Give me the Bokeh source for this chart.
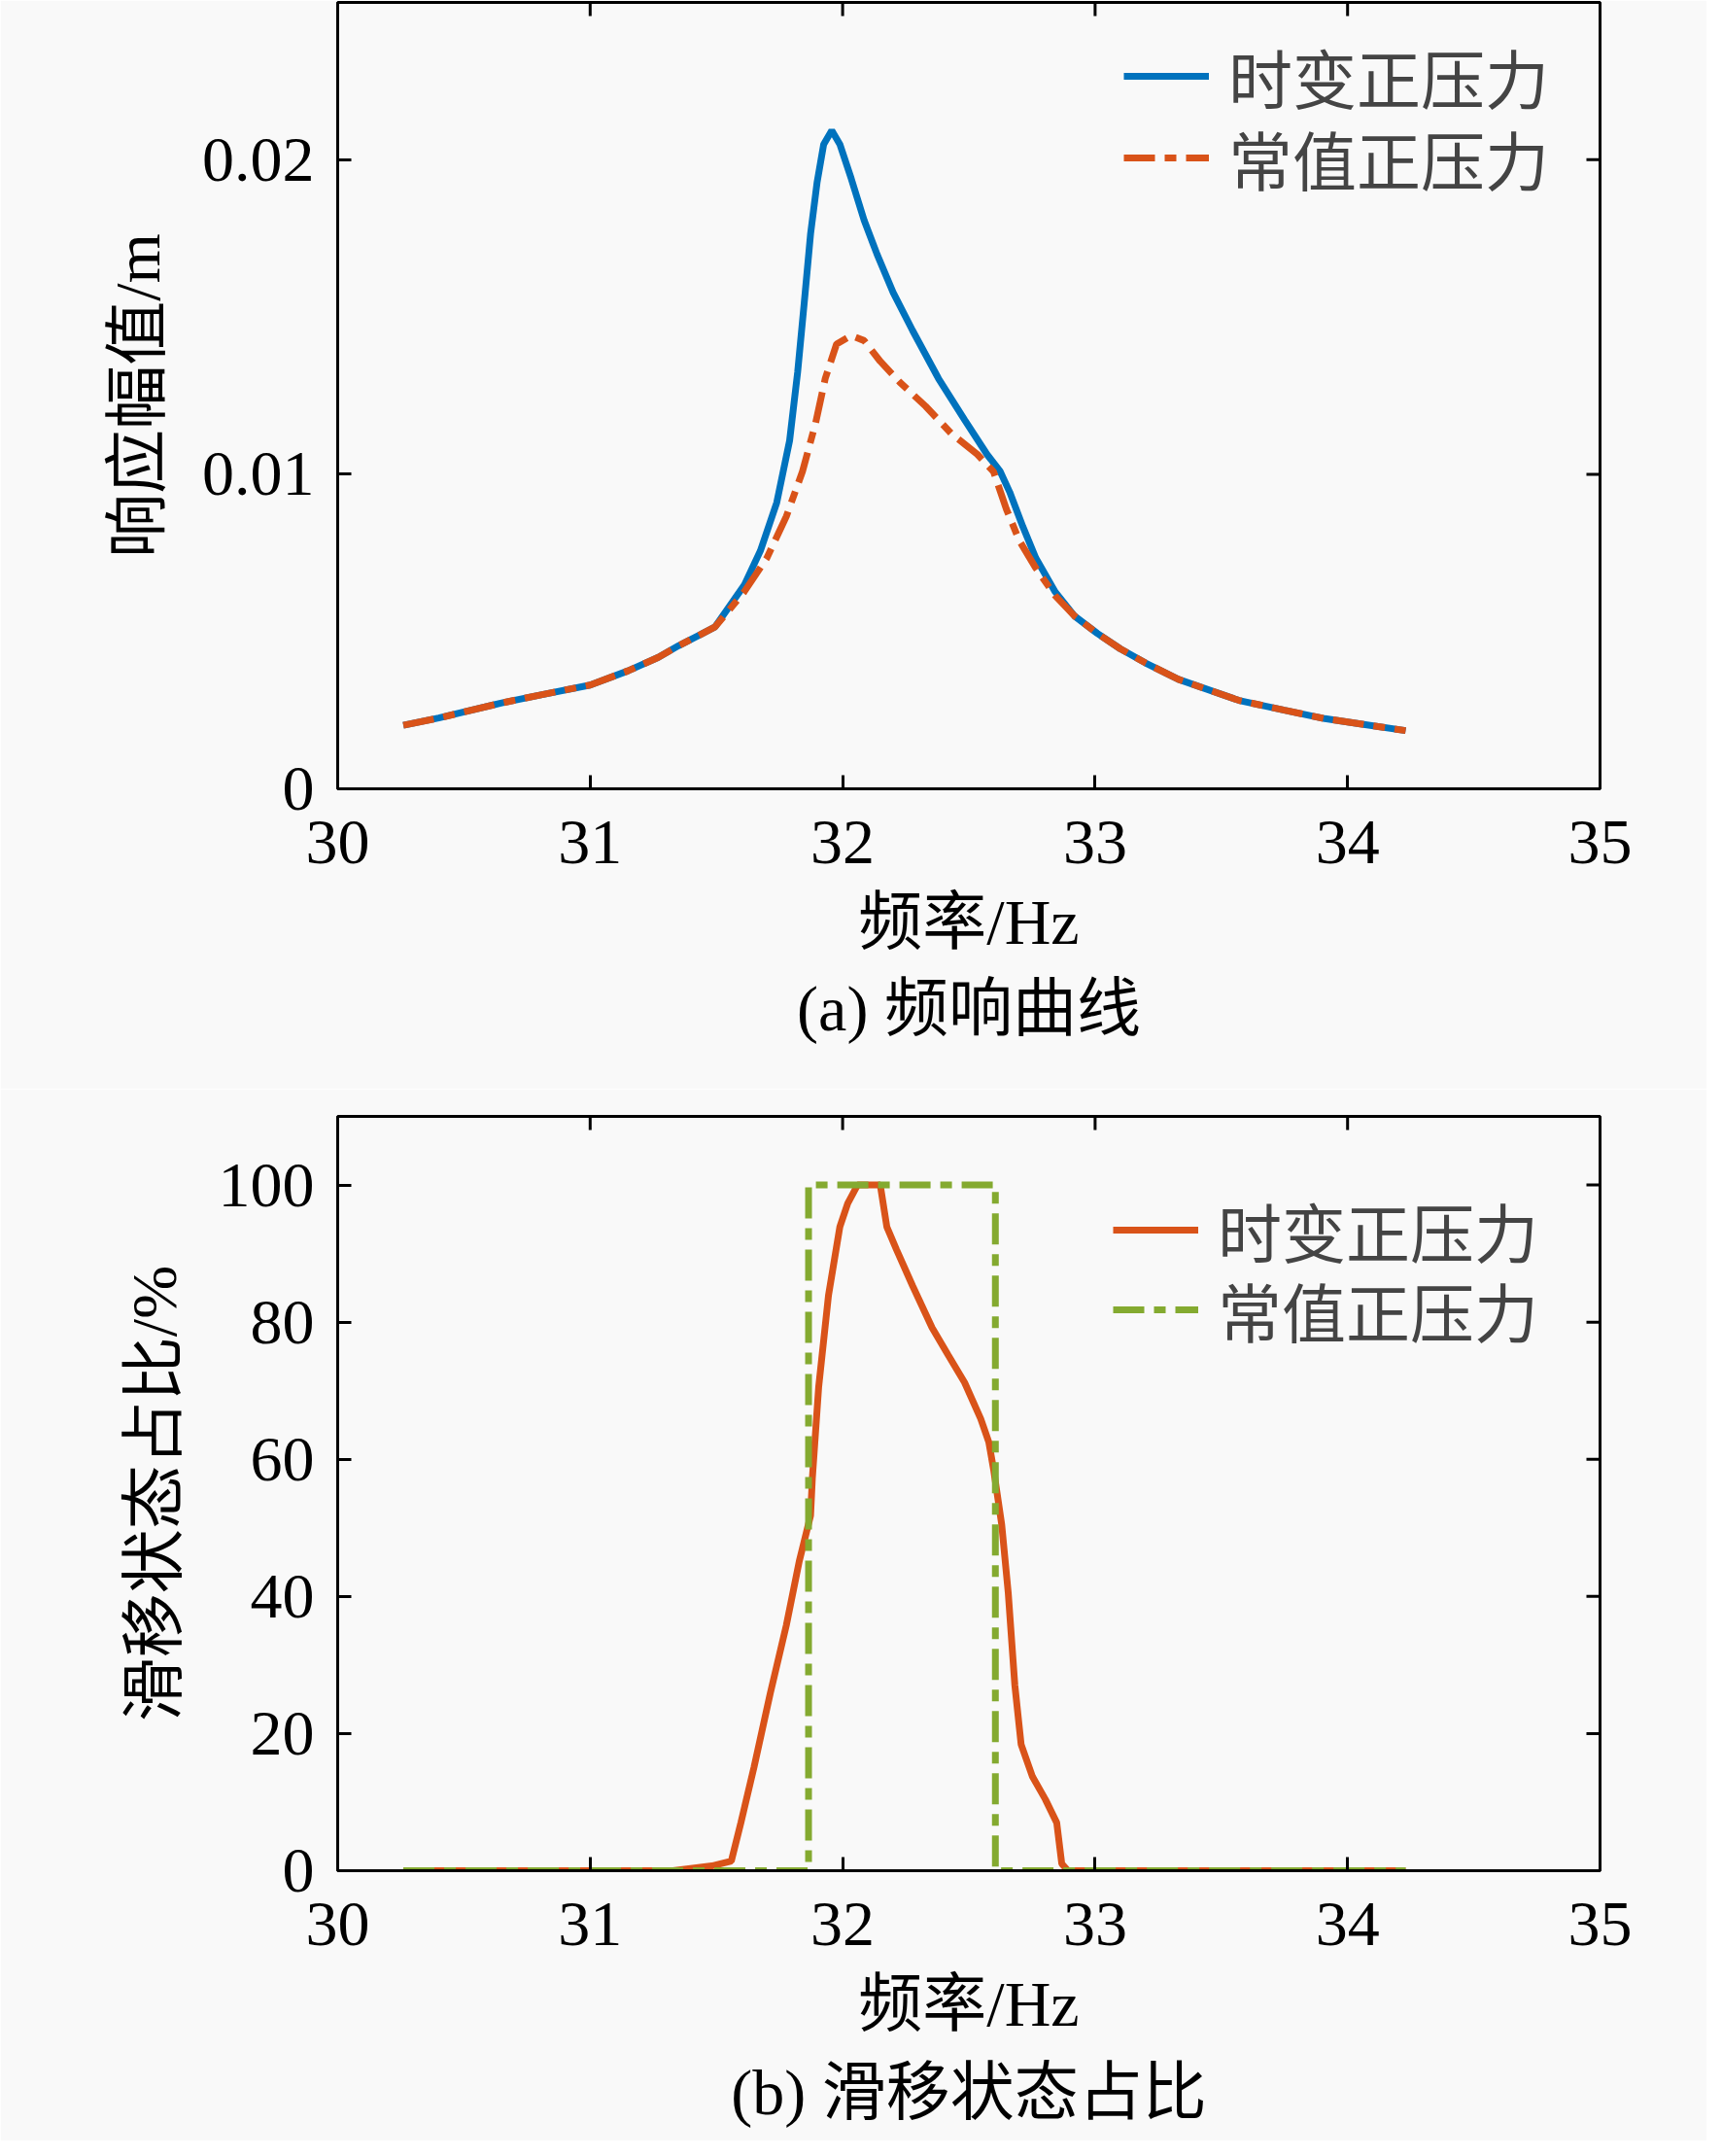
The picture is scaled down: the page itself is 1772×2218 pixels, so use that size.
import math
from bokeh.plotting import figure
from bokeh.models import FixedTicker, Title, Range1d, Legend, LegendItem
from bokeh.layouts import column
from bokeh.embed import file_html
from bokeh.resources import INLINE

# ---------------- data: (a) frequency response ----------------
freq_tv = [30.26, 30.40, 30.65, 30.80, 31.00, 31.15, 31.27, 31.35, 31.44, 31.495,
           31.61, 31.674, 31.739, 31.79, 31.822, 31.848, 31.873, 31.899, 31.925,
           31.957, 31.989, 32.034, 32.085, 32.136, 32.20, 32.277, 32.38, 32.483,
           32.572, 32.624, 32.662, 32.714, 32.765, 32.842, 32.919, 33.009, 33.10,
           33.20, 33.33, 33.57, 33.75, 33.91, 34.07, 34.23]
amp_tv = [0.00202, 0.00225, 0.00273, 0.00298, 0.00330, 0.00375, 0.00418, 0.00455,
          0.00492, 0.00515, 0.00647, 0.00756, 0.00910, 0.01107, 0.01326, 0.01546,
          0.01764, 0.01929, 0.02049, 0.02093, 0.02049, 0.01940, 0.01808, 0.01700,
          0.01578, 0.01457, 0.01304, 0.01173, 0.01063, 0.01009, 0.00943, 0.00833,
          0.00734, 0.00626, 0.00549, 0.00494, 0.00445, 0.00400, 0.00348, 0.00281,
          0.00250, 0.00223, 0.00204, 0.00185]

freq_cst = [30.26, 30.40, 30.65, 30.80, 31.00, 31.15, 31.27, 31.35, 31.44, 31.495,
            31.61, 31.70, 31.777, 31.841, 31.893, 31.931, 31.976, 32.034, 32.085,
            32.149, 32.226, 32.329, 32.431, 32.534, 32.598, 32.649, 32.70, 32.765,
            32.842, 32.919, 33.009, 33.10, 33.20, 33.33, 33.57, 33.75, 33.91, 34.07,
            34.23]
amp_cst = [0.00202, 0.00225, 0.00273, 0.00298, 0.00330, 0.00375, 0.00418, 0.00455,
           0.00492, 0.00515, 0.00626, 0.00734, 0.00866, 0.01009, 0.01163, 0.01304,
           0.01414, 0.01441, 0.01425, 0.01359, 0.01293, 0.01216, 0.01129, 0.01063,
           0.01008, 0.00888, 0.00789, 0.00702, 0.00614, 0.00549, 0.00494, 0.00445,
           0.00400, 0.00348, 0.00281, 0.00250, 0.00223, 0.00204, 0.00185]

# ---------------- data: (b) sliding-state ratio ----------------
freq_slip_tv = [30.26, 31.328, 31.482, 31.559, 31.597, 31.649, 31.713, 31.777, 31.828,
                31.873, 31.88, 31.905, 31.944, 31.989, 32.02, 32.059, 32.149, 32.175,
                32.213, 32.277, 32.354, 32.418, 32.483, 32.547, 32.579, 32.598, 32.63,
                32.656, 32.682, 32.707, 32.752, 32.803, 32.848, 32.868, 32.893, 34.23]
slip_tv = [0, 0, 0.7, 1.4, 7.0, 15.1, 25.8, 35.8, 45.1, 51.8, 57.2, 70.5, 83.9, 93.9,
           97.3, 100, 100, 93.9, 90.6, 85.3, 79.2, 75.2, 71.2, 65.9, 62.5, 58.5, 50.5,
           40.5, 27.1, 18.4, 13.7, 10.4, 7.0, 1.0, 0, 0]

freq_slip_cst = [30.26, 31.865, 31.865, 32.605, 32.605, 34.23]
slip_cst = [0, 0, 100, 100, 0, 0]

x_ticks = [30, 31, 32, 33, 34, 35]
y_ticks_a = [0, 0.01, 0.02]
y_labels_a = ["0", "0.01", "0.02"]
y_ticks_b = [0, 20, 40, 60, 80, 100]

series_names = ["时变正压力", "常值正压力"]
caption_a = "(a) 频响曲线"
caption_b = "(b) 滑移状态占比"
xlabel = "频率/Hz"
ylabel_a = "响应幅值/m"
ylabel_b = "滑移状态占比/%"

BG = "#f9f9f9"
SERIF = "'Liberation Serif', 'Noto Sans CJK SC', serif"
BLUE = "#0072BD"
ORANGE = "#D95319"
GREEN = "#84AA30"
DASHDOT = "32 10 12 10"


def add_legend(p, label, renderer, xy):
    leg = Legend(items=[LegendItem(label=label, renderers=[renderer])],
                 location=xy, margin=0, padding=10,
                 border_line_color=None, background_fill_alpha=0,
                 label_text_font=SERIF, label_text_font_size="66px",
                 glyph_width=88, glyph_height=40, label_height=40,
                 label_standoff=20)
    p.add_layout(leg)


def style(p, yticks, ylabel, caption, ymax, title_standoff, overrides=None):
    p.background_fill_color = BG
    p.border_fill_color = BG
    p.outline_line_color = "black"
    p.outline_line_width = 3
    p.grid.visible = False
    p.xaxis.ticker = FixedTicker(ticks=x_ticks)
    p.yaxis.ticker = FixedTicker(ticks=yticks)
    if overrides:
        p.yaxis.major_label_overrides = overrides
    for ax in (p.xaxis[0], p.yaxis[0]):
        ax.major_tick_in = 14
        ax.major_tick_out = 0
        ax.minor_tick_in = 0
        ax.minor_tick_out = 0
        ax.major_tick_line_width = 3
        ax.axis_line_width = 3
        ax.major_label_text_font = SERIF
        ax.major_label_text_font_size = "66px"
        ax.major_label_text_color = "black"
        ax.axis_label_text_font = SERIF
        ax.axis_label_text_font_size = "66px"
        ax.axis_label_text_font_style = "normal"
        ax.axis_label_text_color = "black"
    p.xaxis.major_label_standoff = 33
    p.yaxis.major_label_standoff = 24
    p.xaxis.axis_label = xlabel
    p.yaxis.axis_label = ylabel
    p.xaxis.axis_label_standoff = 21
    p.yaxis.axis_label_standoff = 27
    # mirrored inward ticks on the top and right frame edges
    p.ray(x=x_ticks, y=[ymax] * len(x_ticks), length=14, length_units="screen",
          angle=-math.pi / 2, line_color="black", line_width=3)
    p.ray(x=[35] * len(yticks), y=yticks, length=14, length_units="screen",
          angle=math.pi, line_color="black", line_width=3)
    # sub-figure caption below the axis label
    p.add_layout(Title(text=caption, align="center", text_font=SERIF,
                       text_font_size="66px", text_font_style="normal",
                       text_line_height=1.0, text_color="black",
                       standoff=title_standoff), "below")


# ---------------- figure (a) ----------------
p1 = figure(width=1756, height=1120, output_backend="svg", toolbar_location=None,
            x_range=Range1d(30, 35), y_range=Range1d(0, 0.025),
            min_border_left=347, min_border_right=110,
            min_border_top=2, min_border_bottom=309)
r1 = p1.line(freq_tv, amp_tv, line_color=BLUE, line_width=7)
r2 = p1.line(freq_cst, amp_cst, line_color=ORANGE, line_width=7, line_dash=DASHDOT)
style(p1, y_ticks_a, ylabel_a, caption_a, 0.025, 23,
      overrides={t: l for t, l in zip(y_ticks_a, y_labels_a)})
add_legend(p1, series_names[0], r1, (809, 685))
add_legend(p1, series_names[1], r2, (809, 601))

# ---------------- figure (b) ----------------
p2 = figure(width=1756, height=1082, output_backend="svg", toolbar_location=None,
            x_range=Range1d(30, 35), y_range=Range1d(0, 110),
            min_border_left=347, min_border_right=110,
            min_border_top=28, min_border_bottom=277)
r3 = p2.line(freq_slip_tv, slip_tv, line_color=ORANGE, line_width=7)
r4 = p2.line(freq_slip_cst, slip_cst, line_color=GREEN, line_width=7, line_dash=DASHDOT)
style(p2, y_ticks_b, ylabel_b, caption_b, 110, 27)
add_legend(p2, series_names[0], r3, (798, 611))
add_legend(p2, series_names[1], r4, (798, 529))

layout = column(p1, p2)
open("out.html", "w").write(file_html(layout, INLINE))
